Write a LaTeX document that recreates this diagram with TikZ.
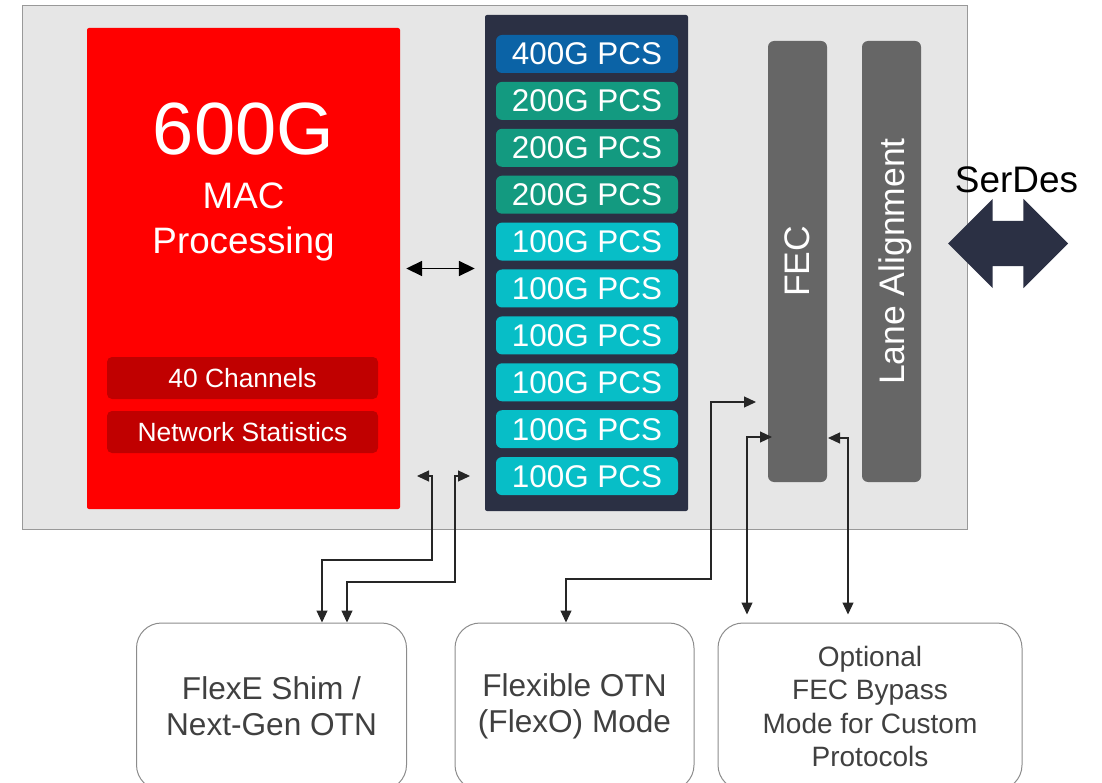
\documentclass[tikz,border=0pt]{standalone}
\usepackage{fontspec}
\setmainfont{Liberation Sans}
\usetikzlibrary{arrows.meta,shapes.arrows}

\definecolor{chipgray}{HTML}{E6E6E6}
\definecolor{chipline}{HTML}{999999}
\definecolor{macred}{HTML}{FF0000}
\definecolor{macdark}{HTML}{C00000}
\definecolor{pcsnavy}{HTML}{2B3044}
\definecolor{pcsblue}{HTML}{0B63A6}
\definecolor{pcsgreen}{HTML}{139A80}
\definecolor{pcscyan}{HTML}{07BEC7}
\definecolor{fecgray}{HTML}{666666}
\definecolor{boxtext}{HTML}{404040}
\definecolor{boxline}{HTML}{8C8C8C}

\newcommand{\fsize}[2]{\fontsize{#1}{#2}\selectfont}

\tikzset{
  panel/.style={draw=chipline, line width=1pt, fill=chipgray, minimum width=945pt, minimum height=523pt},
  macbox/.style={fill=macred, rounded corners=2pt, minimum width=313pt, minimum height=481pt},
  tag/.style={fill=macdark, text=white, rounded corners=5pt, inner sep=0pt, text depth=0pt,
    minimum width=271pt, minimum height=42pt, font=\fsize{26.4}{30}},
  pcsbg/.style={fill=pcsnavy, rounded corners=2pt, minimum width=203pt, minimum height=496pt},
  pcs/.style={text=white, rounded corners=6pt, inner sep=0pt, text depth=0pt,
    minimum width=182pt, minimum height=38pt, font=\fsize{31.4}{36}},
  bar/.style={fill=fecgray, text=white, rounded corners=6pt, rotate=90, inner sep=0pt, text depth=0pt,
    minimum width=441pt, minimum height=59pt, font=\fsize{35.5}{40}},
  serdes/.style={double arrow, fill=pcsnavy, inner xsep=0pt, inner ysep=22.5pt,
    minimum height=120pt, double arrow head extend=22pt},
  ext/.style={draw=boxline, line width=1pt, fill=white, rounded corners=25pt, text=boxtext,
    align=center, minimum height=167pt, font=\fsize{31.6}{36}},
  link/.style={draw=black!85, line width=1.2pt,
    {Triangle[length=12pt,width=11pt]}-{Triangle[length=12pt,width=11pt]}},
}

\begin{document}
\begin{tikzpicture}[x=1pt,y=-1pt]
\useasboundingbox (0,0) rectangle (1102,783);

\node[panel] (chip) at (494.5,267.5) {};

\node[macbox] (mac) at (243.5,268.5) {};
\node[text=white, font=\fsize{74}{80}, anchor=base] (speed) at (243.5,155) {600G};
\node[text=white, font=\fsize{36.8}{40}, anchor=base] (mactxt) at (243.5,209) {MAC};
\node[text=white, font=\fsize{36.8}{40}, anchor=base] (proc) at (243.5,254) {Processing};
\node[tag] (chan) at (242.5,378) {40 Channels};
\node[tag] (stats) at (242.5,432) {Network Statistics};

\node[pcsbg] (pcsbg) at (586.5,263) {};
\foreach \i/\rate/\col in {0/400G/pcsblue, 1/200G/pcsgreen, 2/200G/pcsgreen, 3/200G/pcsgreen,
    4/100G/pcscyan, 5/100G/pcscyan, 6/100G/pcscyan, 7/100G/pcscyan, 8/100G/pcscyan, 9/100G/pcscyan}
  \node[pcs, fill=\col] (pcs\i) at (587,54+46.9*\i) {\rate\ PCS};

\draw[line width=1.8pt, {Triangle[length=16pt,width=15pt]}-{Triangle[length=16pt,width=15pt]}]
  ([xshift=6pt]mac.east) -- ([xshift=-10pt]mac.east -| pcsbg.west);

\node[bar] (fec) at (797.5,261.5) {FEC};
\node[bar] (lane) at (891.5,261.5) {Lane Alignment};

\node[font=\fsize{36.9}{40}, anchor=base] (serdestxt) at (1016.5,193) {SerDes};
\node[serdes] (serdes) at (1008,243.5) {};

\node[ext, minimum width=270pt] (flexe) at (271.5,706.5) {FlexE Shim /\\Next-Gen OTN};
\node[ext, minimum width=239pt] (flexo) at (574.5,706.5) {Flexible OTN\\(FlexO) Mode};
\node[ext, minimum width=304pt, font=\fsize{28}{33.3}] (bypass) at (870,706.5)
  {Optional\\FEC Bypass\\Mode for Custom\\Protocols};

\coordinate (macport) at (417,476);
\coordinate (pcsport) at (470,476);
\coordinate (fecin) at (756,402);
\coordinate (fecout) at (772,437);
\coordinate (fecbyp) at (828,438);

\draw[link] (macport) -| (432,560) -| ([xshift=50.5pt]flexe.north);
\draw[link] (pcsport) -| (455,582) -| ([xshift=75.5pt]flexe.north);
\draw[link] (fecin) -| (711,579) -| ([xshift=-8.5pt]flexo.north);
\draw[link, shorten >=8pt] (fecout) -| ([xshift=-123pt]bypass.north);
\draw[link, shorten >=8pt] (fecbyp) -| ([xshift=-22pt]bypass.north);
\end{tikzpicture}
\end{document}
